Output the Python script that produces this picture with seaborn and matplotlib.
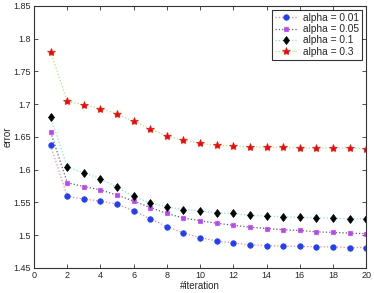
import matplotlib
matplotlib.use("Agg")
import matplotlib.pyplot as plt
import seaborn as sns
import pandas as pd
from matplotlib.ticker import FuncFormatter

# values
iterations = list(range(1, 21))
alpha_labels = ["alpha = 0.01", "alpha = 0.05", "alpha = 0.1", "alpha = 0.3"]
err_001 = [1.637, 1.559, 1.555, 1.552, 1.547, 1.537, 1.525, 1.513, 1.503, 1.496,
           1.491, 1.488, 1.485, 1.484, 1.483, 1.483, 1.482, 1.482, 1.481, 1.481]
err_005 = [1.657, 1.580, 1.574, 1.569, 1.561, 1.552, 1.542, 1.533, 1.526, 1.522,
           1.518, 1.515, 1.512, 1.510, 1.508, 1.507, 1.505, 1.504, 1.503, 1.502]
err_01 = [1.681, 1.604, 1.595, 1.586, 1.573, 1.559, 1.549, 1.543, 1.539, 1.537,
          1.534, 1.533, 1.530, 1.529, 1.528, 1.527, 1.526, 1.526, 1.525, 1.525]
err_03 = [1.780, 1.704, 1.699, 1.693, 1.685, 1.674, 1.662, 1.651, 1.645, 1.640,
          1.637, 1.636, 1.635, 1.634, 1.634, 1.633, 1.633, 1.633, 1.633, 1.632]

df = pd.DataFrame({
    "iteration": iterations * 4,
    "error": err_001 + err_005 + err_01 + err_03,
    "alpha": sum([[a] * 20 for a in alpha_labels], []),
})

# matlab-ish styling: line colour differs from marker colour
line_colors = ["#ff8080", "#606060", "#70f0d8", "#a0f060"]
marker_colors = ["#1f3fff", "#c040ff", "black", "red"]
markers = ["o", "s", "d", "*"]
msizes = [4, 3, 4.5, 6]

sns.set_style("white")
plt.rcParams["font.family"] = ["Liberation Sans", "DejaVu Sans"]

fig = plt.figure(figsize=(3.74, 2.93), dpi=100)
ax = fig.add_axes([0.091, 0.086, 0.888, 0.894])

for i, a in enumerate(alpha_labels):
    sub = df[df["alpha"] == a]
    sns.lineplot(data=sub, x="iteration", y="error", ax=ax, label=a,
                 color=line_colors[i], linestyle=":", linewidth=0.9,
                 marker=markers[i], markersize=msizes[i],
                 markerfacecolor=marker_colors[i], markeredgecolor=marker_colors[i],
                 markeredgewidth=0.5)

ax.set_xlim(0, 20)
ax.set_ylim(1.45, 1.85)
ax.set_xticks(range(0, 21, 2))
ax.set_yticks([1.45 + 0.05 * k for k in range(9)])
ax.yaxis.set_major_formatter(FuncFormatter(lambda v, p: f"{v:.2f}".rstrip("0").rstrip(".")))
ax.tick_params(direction="in", length=3, width=0.6, labelsize=6.5,
               bottom=True, left=True, top=True, right=True,
               pad=2, color="#333333")
for s in ax.spines.values():
    s.set_linewidth(0.8)
    s.set_color("#333333")
ax.set_xlabel("#iteration", fontsize=7, labelpad=1)
ax.set_ylabel("error", fontsize=7, labelpad=1)

leg = ax.legend(loc="upper right", fontsize=7.3, frameon=True, fancybox=False,
                edgecolor="black", borderpad=0.3, labelspacing=0.12,
                handlelength=2.2, handletextpad=0.6, borderaxespad=0.4)
leg.get_frame().set_linewidth(0.8)

fig.savefig("out.png", dpi=100)
